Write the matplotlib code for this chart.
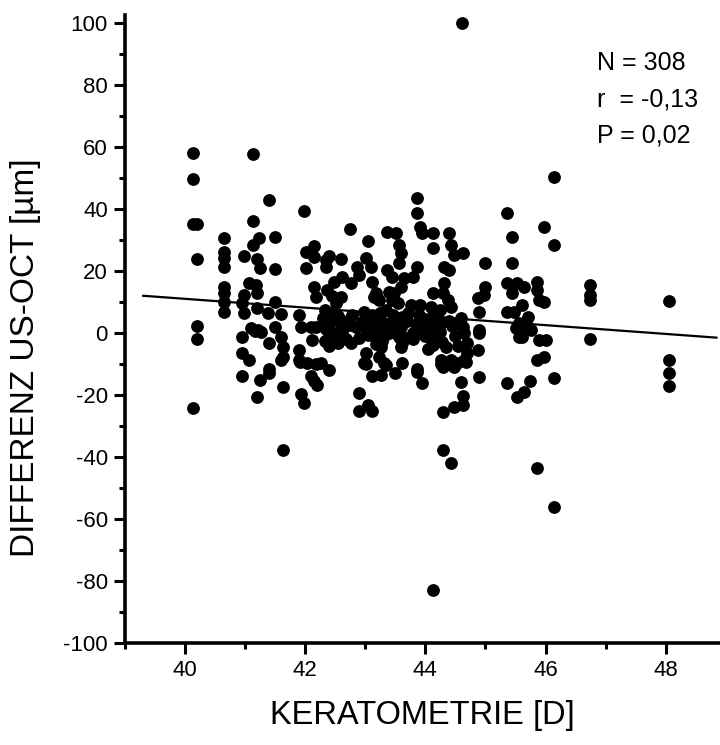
import matplotlib
matplotlib.use("Agg")
import matplotlib.pyplot as plt
from matplotlib.ticker import FixedLocator
import numpy as np

plt.rcParams['font.family'] = ['Liberation Sans', 'DejaVu Sans']
plt.rcParams['axes.unicode_minus'] = False

# Keratometrie [D] / Differenz US-OCT [um]
kera = [
    # ~40.1-40.2
    40.13, 40.13, 40.13, 40.2, 40.2, 40.2, 40.2, 40.13,
    # ~40.65
    40.65, 40.65, 40.65, 40.65, 40.65, 40.65, 40.65, 40.65,
    # 41-42.4
    41.14, 41.14, 41.4, 41.5, 41.24, 41.14, 40.99, 41.21, 41.25, 41.5,
    41.07, 41.18, 41.2, 40.99, 40.96, 41.5, 40.99, 41.2, 41.39, 41.6,
    40.95, 41.1, 41.17, 41.22, 41.27, 41.5, 41.6, 41.4, 41.63, 40.95,
    41.07, 41.4, 41.63, 41.9, 41.93, 41.99, 42.01, 42.01, 42.15, 42.15,
    42.15, 42.18, 42.1, 42.18, 42.12, 41.9, 41.9, 42.04, 42.26, 42.35,
    42.35, 42.37,
    # lower left
    40.96, 41.25, 41.4, 41.21, 41.63, 41.6, 41.92, 42.18, 42.4, 42.1,
    42.15, 42.2, 41.93, 41.99, 41.63,
    # upper middle
    43.87, 43.87, 43.92, 43.95, 44.12, 44.12, 44.39, 44.42, 44.48, 44.62,
    42.75, 43.04, 43.37, 43.51, 43.56, 43.6, 43.56, 43.87, 43.79, 43.65,
    43.59, 43.48, 43.37, 43.45, 42.6, 42.4, 43.01, 43.09, 42.87, 42.9,
    42.48, 42.62, 42.76, 42.6, 42.51, 43.12, 43.18, 43.23, 43.15, 43.4,
    43.45, 43.54, 42.98, 43.12,
    # cluster 42.3-42.8
    42.33, 42.3, 42.42, 42.35, 42.5, 42.4, 42.33, 42.5, 42.6, 42.62,
    42.75, 42.78, 42.4, 42.55, 42.68, 42.76,
    # cluster 43.1-43.4
    43.15, 43.2, 43.1, 43.25, 43.3, 43.22, 43.28, 43.05, 43.18, 43.35,
    43.32, 43.12, 43.4, 43.25,
    # 43.6-44.4
    43.62, 43.59, 43.56, 43.62, 43.79, 43.76, 43.92, 44.09, 44.12, 44.31,
    44.39, 44.31, 44.29, 44.37, 44.42,
    # cluster 44.1-44.3
    44.08, 44.12, 44.15, 44.1, 44.2, 44.22, 44.25, 44.18, 44.28, 44.27,
    44.13, 44.2,
    # 44.5-45.6
    44.59, 44.62, 44.64, 44.7, 44.89, 44.87, 44.98, 44.89, 45.0, 45.0,
    45.36, 45.45, 45.45, 45.36, 45.45, 45.36, 45.47, 45.53, 45.56, 44.89,
    44.87, 44.7, 44.64, 44.53, 44.42, 44.26, 44.29, 44.12, 43.59, 43.62,
    43.26, 43.23, 43.31, 43.01, 42.98, 43.87,
    # lower middle and outliers
    43.01, 43.12, 43.26, 43.34, 43.49, 42.9, 42.9, 43.04, 43.12, 43.87,
    43.95, 44.26, 44.48, 44.67, 44.6, 44.62, 44.48, 44.63, 44.3, 44.89,
    45.36, 45.53, 44.3, 44.42, 44.12, 44.61,
    # right part
    46.14, 45.97, 46.14, 45.86, 45.86, 45.89, 45.97, 45.53, 45.64, 45.61,
    45.7, 45.56, 45.7, 45.61, 45.75, 45.5, 45.89, 46.0, 45.86, 45.97,
    46.74, 46.74, 46.74, 46.74, 48.05, 48.05, 48.05, 48.05, 46.14, 45.74,
    45.64, 45.86, 46.14,
    # hidden under the dense clusters
    43.7, 43.72, 43.85, 43.9, 44.0, 43.5, 43.47, 43.5, 42.85, 42.9,
    42.95, 44.45, 44.5, 44.55, 44.4, 44.35, 44.0, 43.95, 42.45, 42.55,
    42.7, 43.0, 43.68, 43.8, 44.05, 44.15, 44.25, 43.35, 42.45,
]
diff = [
    58.3, 49.7, 35.2, 35.2, 24.0, 2.4, -1.8, -24.2,
    30.6, 26.3, 24.2, 21.5, 15.0, 12.9, 10.2, 7.0,
    57.8, 36.3, 43.0, 31.2, 30.6, 28.5, 24.9, 23.9, 21.0, 20.6,
    16.1, 15.6, 13.1, 12.4, 9.7, 10.2, 6.6, 8.1, 6.6, 6.2,
    -1.1, 1.7, 0.8, 1.2, 0.4, 2.1, -1.1, -3.2, -4.3, -6.3,
    -8.6, -11.6, -7.5, 5.9, 2.1, 39.5, 21.0, 26.3, 28.2, 24.7,
    15.0, 11.8, 2.1, 2.1, -2.2, -5.4, -8.6, -9.7, -9.7, 23.6,
    21.5, 14.0,
    -13.8, -15.1, -12.9, -20.6, -17.2, -8.6, -9.2, -9.9, -11.8, -13.8,
    -15.5, -16.7, -19.6, -22.6, -37.6,
    43.7, 38.9, 34.4, 32.3, 32.3, 27.4, 32.3, 28.5, 25.3, 25.8,
    33.5, 29.8, 32.8, 32.3, 28.5, 25.8, 22.6, 21.5, 18.3, 17.7,
    15.0, 12.9, 20.4, 18.3, 23.9, 24.9, 24.2, 21.5, 21.5, 18.8,
    16.6, 18.3, 16.1, 11.8, 9.7, 16.6, 12.9, 10.7, 11.8, 13.4,
    10.7, 9.7, 7.0, 5.9,
    7.5, 5.0, 3.5, 1.5, 0.0, -0.5, -2.5, -1.5, 3.0, 0.5,
    2.8, 6.0, -4.0, 5.5, -2.0, -3.2,
    5.0, 2.5, 0.5, 4.5, 1.0, -0.8, -2.5, -0.5, -3.5, 3.0,
    -1.0, 3.0, 0.0, 6.5,
    5.4, 2.1, -1.1, -3.2, 0.0, 9.1, 9.1, 8.6, 12.9, 21.5,
    20.4, 16.1, 12.9, 10.7, 8.6,
    4.5, 2.0, 0.0, -2.0, 5.0, 2.5, 0.5, -1.5, 3.5, -2.8,
    -3.0, -0.8,
    4.8, 2.1, 0.0, -3.2, 1.1, 11.3, 12.4, 7.0, 15.0, 22.8,
    38.7, 31.2, 22.8, 16.1, 12.9, 7.0, 7.0, 2.1, -1.1, 0.0,
    -5.4, -6.5, -8.6, -9.7, -8.6, -8.6, -10.8, -3.8, -4.3, -9.7,
    -4.3, -7.5, -9.7, -6.5, -9.7, -11.6,
    -9.9, -13.8, -13.4, -10.2, -12.9, -19.4, -25.0, -23.1, -25.0, -12.4,
    -15.9, -9.9, -10.8, -9.2, -15.6, -20.2, -23.7, -23.1, -25.3, -14.0,
    -16.1, -20.5, -37.6, -41.7, -82.8, 100.0,
    50.5, 34.2, 28.5, 16.6, 14.0, 10.7, 10.2, 16.1, 15.0, 9.1,
    5.4, 3.2, 2.1, -1.1, 1.1, 1.6, -2.2, -2.2, -8.6, -7.5,
    15.6, 12.4, 10.7, -1.9, 10.5, -8.6, -12.9, -17.0, -14.5, -15.3,
    -18.8, -43.5, -55.9,
    4.0, 6.5, 3.0, 6.0, 4.5, 3.5, 6.0, 0.5, 2.0, -1.5,
    3.5, 2.5, -1.0, -4.0, 4.0, -4.5, -1.0, 1.5, 6.5, -3.0,
    4.0, 2.0, -1.5, -2.0, -5.0, 6.5, 7.5, 7.5, 12.0,
]

# regression line end points
fit_x = [39.31, 48.84]
fit_y = [12.1, -1.4]

stats = ["N = 308", "r  = -0,13", "P = 0,02"]

fig = plt.figure(figsize=(7.2, 7.45), dpi=100)
ax = fig.add_axes([0.173, 0.1365, 0.827, 0.8435])

ax.scatter(kera, diff, s=85, c='black', linewidths=0, zorder=3)
ax.plot(fit_x, fit_y, color='black', lw=1.6, zorder=2)

ax.set_xlim(39.0, 48.9)
ax.set_ylim(-100, 102.7)

ax.xaxis.set_major_locator(FixedLocator([40, 42, 44, 46, 48]))
ax.xaxis.set_minor_locator(FixedLocator([39, 41, 43, 45, 47]))
ax.yaxis.set_major_locator(FixedLocator(np.arange(-100, 101, 20)))
ax.yaxis.set_minor_locator(FixedLocator(np.arange(-90, 100, 20)))

for s in ['top', 'right']:
    ax.spines[s].set_visible(False)
for s in ['left', 'bottom']:
    ax.spines[s].set_linewidth(2.6)

ax.tick_params(which='major', direction='out', length=8, width=2.2,
               labelsize=16, pad=4)
ax.tick_params(which='minor', direction='out', length=4.5, width=2.2)

ax.set_xlabel('KERATOMETRIE [D]', fontsize=23.5)
ax.set_ylabel('DIFFERENZ US-OCT [µm]', fontsize=24)
ax.xaxis.set_label_coords(0.5, -0.09)
ax.yaxis.set_label_coords(-0.14, 0.455)

for i, t in enumerate(stats):
    fig.text(0.829, 0.9056 - i * 0.0483, t, fontsize=18, va='baseline')

fig.savefig('out.png', dpi=100)
